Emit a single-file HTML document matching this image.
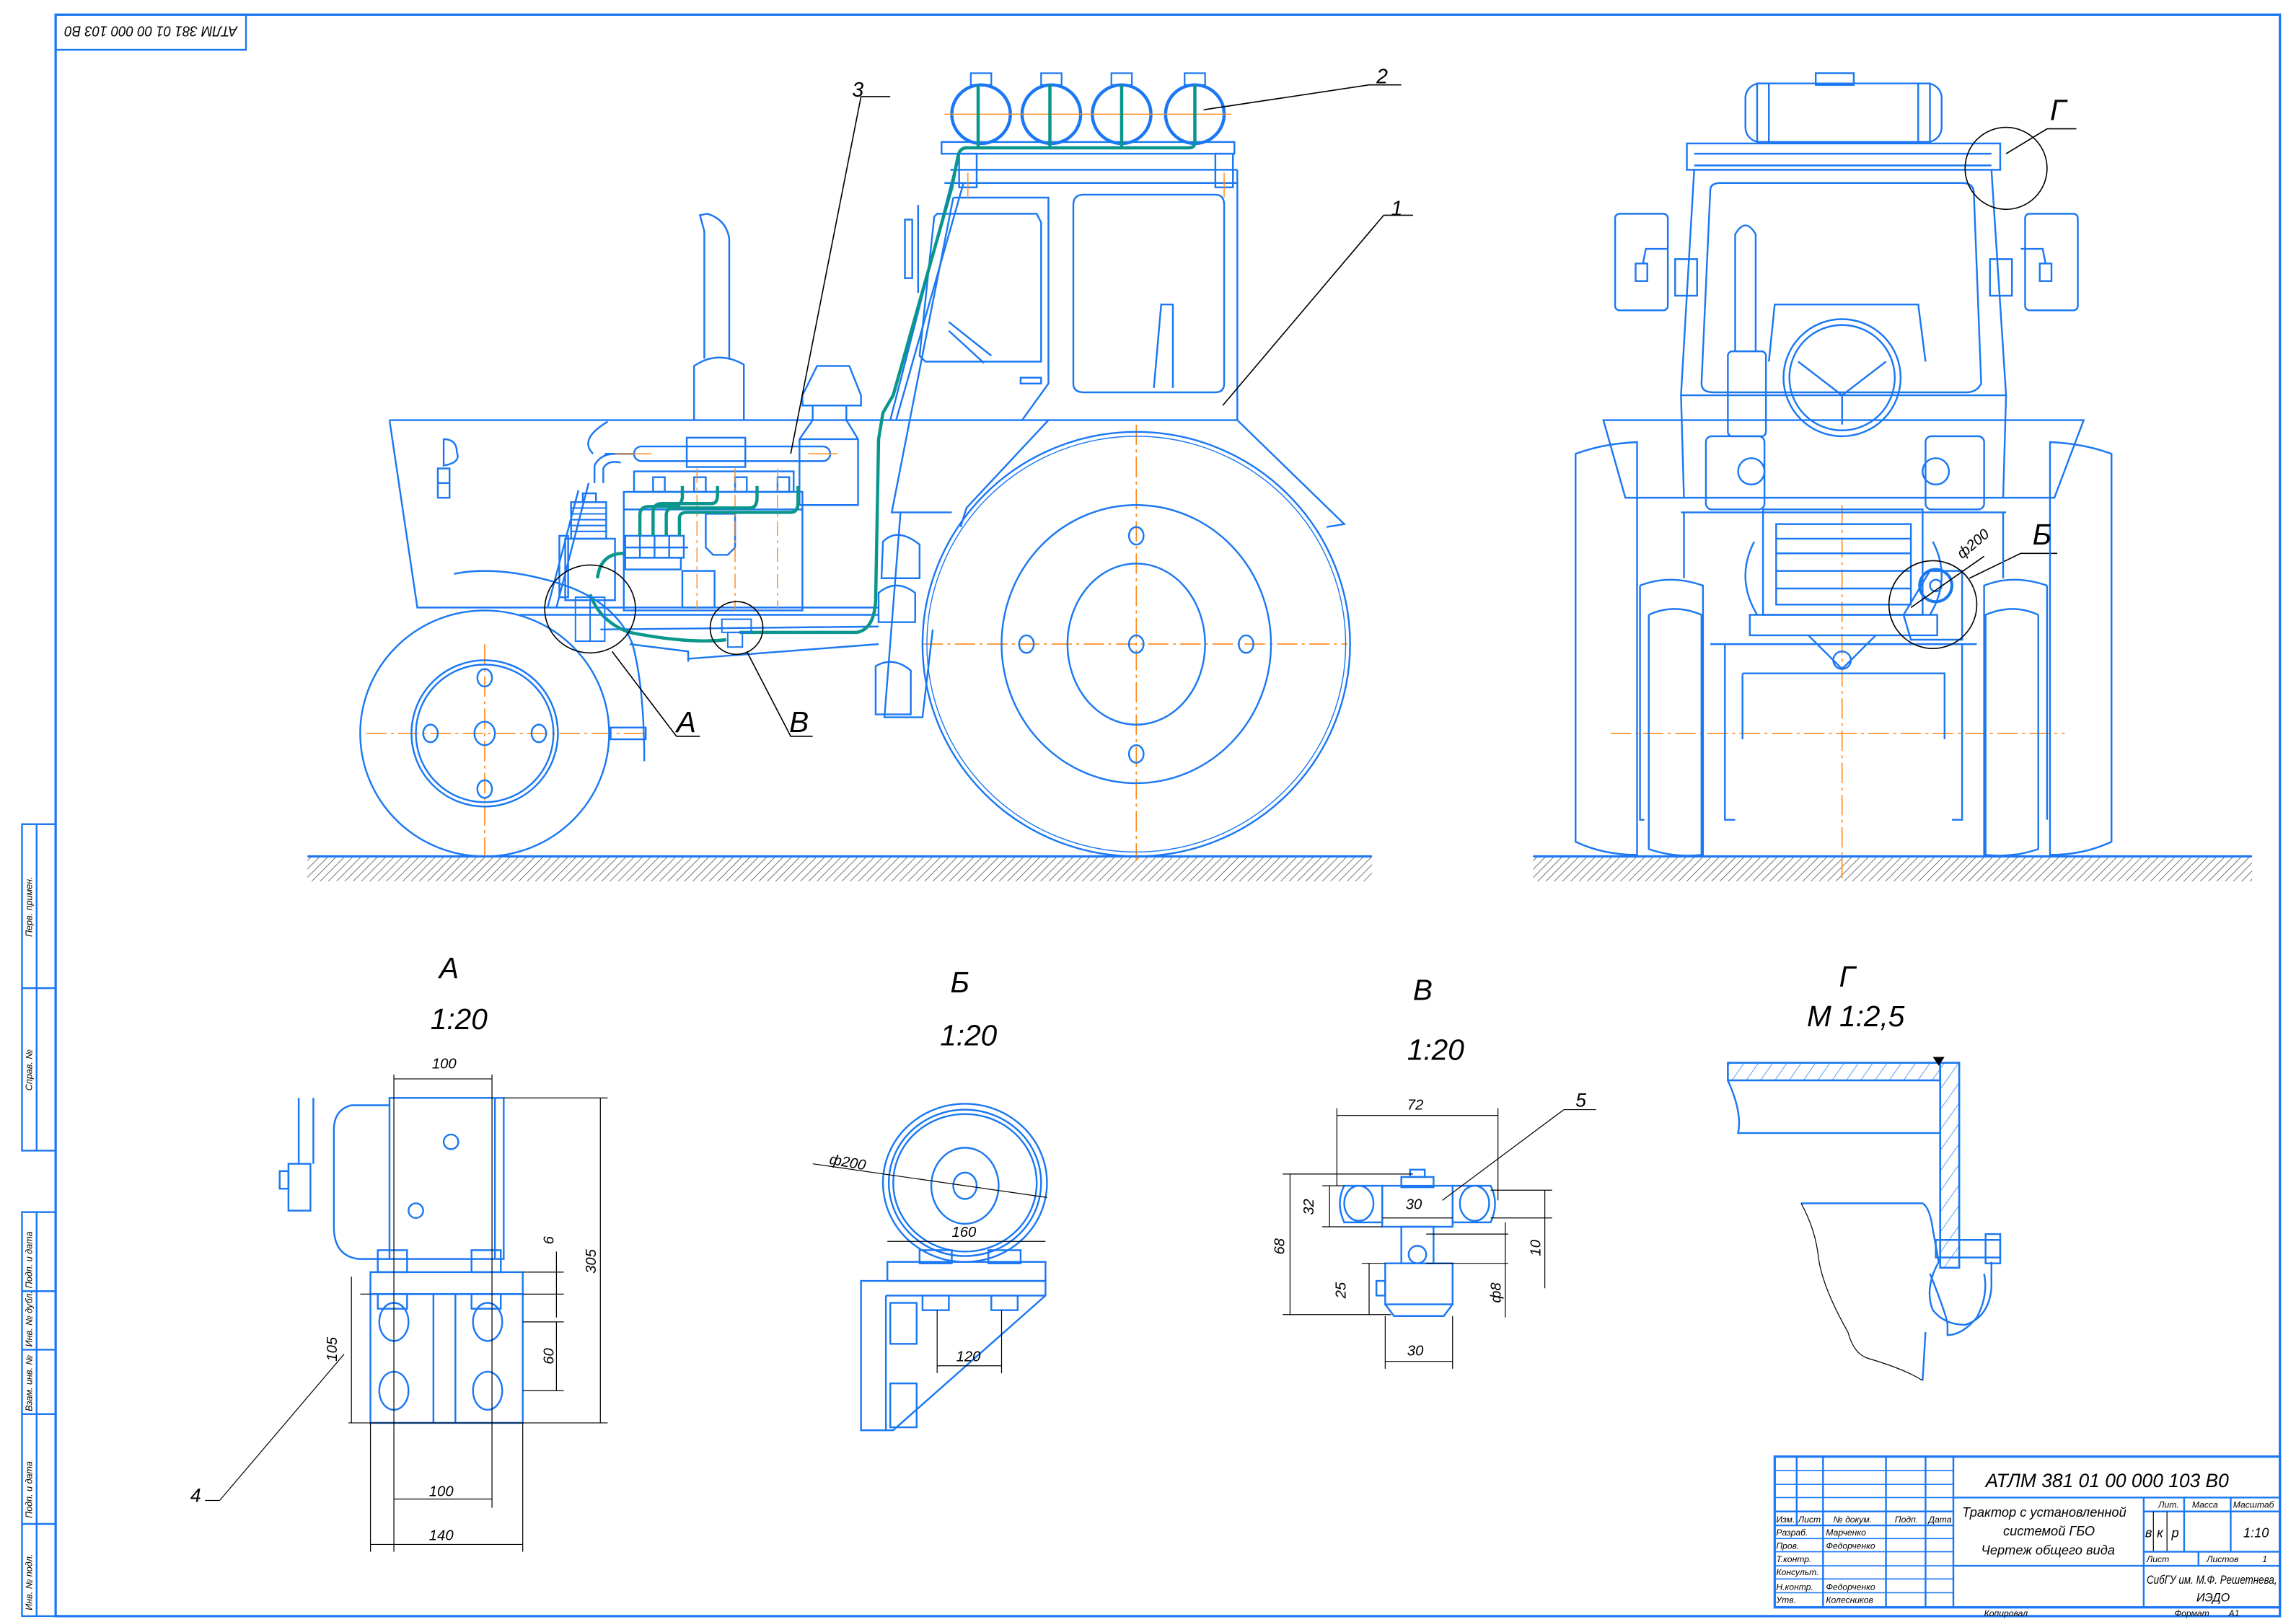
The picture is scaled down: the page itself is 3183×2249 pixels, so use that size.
<!DOCTYPE html>
<html><head><meta charset="utf-8"><style>
html,body{margin:0;padding:0;background:#fff;}
svg{display:block;}
text{font-family:"Liberation Sans","DejaVu Sans",sans-serif;font-style:italic;fill:#000;}
</style></head><body>
<svg width="3183" height="2249" viewBox="0 0 1568 1108" preserveAspectRatio="none" xmlns="http://www.w3.org/2000/svg">
<defs>
<pattern id="hat" width="4" height="4" patternUnits="userSpaceOnUse" patternTransform="rotate(45)"><line x1="0" y1="0" x2="0" y2="4" stroke="#555" stroke-width="0.8"/></pattern>
<pattern id="hat2" width="8" height="8" patternUnits="userSpaceOnUse" patternTransform="rotate(35)"><line x1="0" y1="0" x2="0" y2="8" stroke="#1b78f2" stroke-width="0.7"/></pattern>
</defs>
<rect width="1568" height="1108" fill="#fff"/>
<g fill="none" stroke="#1b78f2" stroke-width="1.2">
<rect x="38" y="10" width="1519" height="1094" stroke-width="1.6"/>
<rect x="38" y="10" width="130" height="24"/>
<rect x="15" y="563" width="23" height="223"/><line x1="25" y1="563" x2="25" y2="786"/><line x1="15" y1="675" x2="38" y2="675"/>
<rect x="15" y="828" width="23" height="276"/><line x1="25" y1="828" x2="25" y2="1104"/>
<line x1="15" y1="882" x2="38" y2="882"/><line x1="15" y1="922" x2="38" y2="922"/><line x1="15" y1="966" x2="38" y2="966"/><line x1="15" y1="1041" x2="38" y2="1041"/>
<rect x="1212" y="995" width="345" height="103" stroke-width="1.6"/>
<line x1="1334" y1="995" x2="1334" y2="1098"/>
<line x1="1227" y1="995" x2="1227" y2="1042"/><line x1="1245" y1="995" x2="1245" y2="1098"/><line x1="1288" y1="995" x2="1288" y2="1098"/><line x1="1315" y1="995" x2="1315" y2="1098"/>
<line x1="1212" y1="1004.5" x2="1334" y2="1004.5" stroke-width="0.8"/><line x1="1212" y1="1014" x2="1334" y2="1014" stroke-width="0.8"/><line x1="1212" y1="1023" x2="1334" y2="1023" stroke-width="0.8"/>
<line x1="1212" y1="1032.5" x2="1334" y2="1032.5"/><line x1="1212" y1="1042" x2="1334" y2="1042"/>
<line x1="1212" y1="1051" x2="1334" y2="1051" stroke-width="0.8"/><line x1="1212" y1="1060" x2="1334" y2="1060" stroke-width="0.8"/><line x1="1212" y1="1069.6" x2="1334" y2="1069.6" stroke-width="0.8"/><line x1="1212" y1="1078.6" x2="1334" y2="1078.6" stroke-width="0.8"/><line x1="1212" y1="1088" x2="1334" y2="1088" stroke-width="0.8"/>
<line x1="1334" y1="1023" x2="1557" y2="1023"/><line x1="1464" y1="1023" x2="1464" y2="1098"/>
<line x1="1464" y1="1032.5" x2="1557" y2="1032.5"/><line x1="1491.6" y1="1023" x2="1491.6" y2="1060"/><line x1="1523.4" y1="1023" x2="1523.4" y2="1060"/>
<line x1="1470.6" y1="1032.5" x2="1470.6" y2="1060" stroke="#000" stroke-width="0.6"/><line x1="1479.9" y1="1032.5" x2="1479.9" y2="1060" stroke="#000" stroke-width="0.6"/>
<line x1="1464" y1="1060" x2="1557" y2="1060"/><line x1="1501.4" y1="1060" x2="1501.4" y2="1069.6"/>
<line x1="1334" y1="1069.6" x2="1557" y2="1069.6"/>
</g>
<rect x="210" y="585" width="727" height="17" fill="url(#hat)"/>
<line x1="210" y1="585" x2="937" y2="585" stroke="#1b78f2" stroke-width="1.5"/>
<rect x="1047" y="585" width="491" height="17" fill="url(#hat)"/>
<line x1="1047" y1="585" x2="1538" y2="585" stroke="#1b78f2" stroke-width="1.5"/>

<g stroke="#ff8a1a" stroke-width="0.8" stroke-dasharray="14 3 2 3" fill="none">
<line x1="630" y1="440" x2="920" y2="440"/><line x1="776" y1="290" x2="776" y2="588"/>
<line x1="250" y1="501" x2="440" y2="501"/><line x1="331" y1="440" x2="331" y2="588"/>
<line x1="1100" y1="501" x2="1410" y2="501"/><line x1="1258" y1="345" x2="1258" y2="600"/>
</g>

<g fill="none" stroke="#1b78f2" stroke-width="1.2">
<ellipse cx="776" cy="440" rx="146" ry="145"/>
<ellipse cx="776" cy="440" rx="143" ry="142" stroke-width="0.7"/>
<ellipse cx="776" cy="440" rx="92" ry="95"/>
<ellipse cx="776" cy="440" rx="47" ry="55"/>
<ellipse cx="776" cy="366" rx="5" ry="6"/><ellipse cx="776" cy="515" rx="5" ry="6"/><ellipse cx="701" cy="440" rx="5" ry="6"/><ellipse cx="851" cy="440" rx="5" ry="6"/><ellipse cx="776" cy="440" rx="5" ry="6"/>
<ellipse cx="331" cy="501" rx="85" ry="84"/>
<ellipse cx="331" cy="501" rx="50" ry="50"/><ellipse cx="331" cy="501" rx="47" ry="47"/>
<ellipse cx="331" cy="501" rx="7" ry="8"/><ellipse cx="331" cy="463" rx="5" ry="6"/><ellipse cx="331" cy="539" rx="5" ry="6"/><ellipse cx="294" cy="501" rx="5" ry="6"/><ellipse cx="368" cy="501" rx="5" ry="6"/>
<path d="M310 392 Q340 386 380 398 Q420 410 432 440 Q440 470 440 520"/>
<rect x="417" y="497" width="24" height="8"/>
<path d="M266 287 L598 287 M266 287 L285 415 L600 415"/>
<path d="M303 300 L303 318 Q315 316 312 309 Q312 300 303 300 Z"/><rect x="299" y="320" width="8" height="20"/><line x1="299" y1="330" x2="307" y2="330"/>
<path d="M481 245 L481 158 L478 147 L483 146 Q496 150 498 163 L498 245"/>
<path d="M474 287 L474 250 Q490 239 508 249 L508 287"/>
<path d="M548 277 L548 270 L558 250 L580 250 L588 270 L588 277 Z"/>
<path d="M555 277 L555 287 L546 300 L546 345 L586 345 L586 300 L578 287 L578 277"/>
<line x1="546" y1="300" x2="586" y2="300"/>
<rect x="426" y="336" width="122" height="81"/>
<line x1="426" y1="348" x2="548" y2="348"/>
<rect x="433" y="322" width="109" height="14"/>
<rect x="433" y="305" width="134" height="10" rx="5"/>
<rect x="469" y="299" width="40" height="20"/>
<line x1="413" y1="310" x2="433" y2="310"/>
<path d="M406 330 L406 318 Q410 310 420 310 M412 330 L412 320 Q415 314 424 316"/>
<path d="M405 310 Q395 300 415 288"/>
<rect x="474" y="326" width="8" height="10"/><rect x="502" y="326" width="8" height="10"/><rect x="531" y="326" width="8" height="10"/><rect x="446" y="326" width="8" height="10"/>
<rect x="390" y="343" width="24" height="25"/>
<g stroke-width="1"><line x1="390" y1="347" x2="414" y2="347"/><line x1="390" y1="351" x2="414" y2="351"/><line x1="390" y1="355" x2="414" y2="355"/><line x1="390" y1="359" x2="414" y2="359"/><line x1="390" y1="363" x2="414" y2="363"/></g>
<rect x="398" y="337" width="9" height="6"/>
<rect x="386" y="368" width="34" height="42"/><rect x="382" y="366" width="6" height="42"/>
<rect x="427" y="366" width="40" height="15"/><line x1="427" y1="374" x2="470" y2="374"/>
<line x1="437" y1="366" x2="437" y2="381"/><line x1="447" y1="366" x2="447" y2="381"/><line x1="457" y1="366" x2="457" y2="381"/>
<rect x="427" y="381" width="38" height="8"/>
<path d="M482 351 L502 351 L502 374 L497 379 L487 379 L482 374 Z"/>
<rect x="466" y="390" width="22" height="25"/>
<path d="M380 415 L402 330 M374 415 L395 335"/>
<path d="M355 420 L600 420 M410 430 L600 428 M470 450 L600 440 M430 440 L470 445 L470 452"/>
<rect x="643" y="97" width="200" height="8"/>
<rect x="655" y="105" width="12" height="23"/><rect x="830" y="105" width="12" height="23"/>
<line x1="649" y1="116" x2="845" y2="116"/><line x1="645" y1="125" x2="845" y2="125"/>
<line x1="845" y1="116" x2="845" y2="287"/>
<path d="M652 116 L608 287 M658 125 L612 287"/>
<path d="M651 135 L716 135 L716 262 L698 287 M651 135 L609 350 L650 350"/>
<path d="M640 146 L708 146 L711 152 L711 247 L632 247 L628 243 L638 148 Z"/>
<path d="M733 140 Q733 133 740 133 L830 133 Q836 133 836 140 L836 262 Q836 268 830 268 L740 268 Q733 268 733 262 Z"/>
<path d="M788 265 L793 208 L801 208 L801 265"/>
<path d="M648 220 L677 243 M648 226 L672 248"/>
<rect x="697" y="258" width="14" height="4"/>
<rect x="618" y="150" width="5" height="40"/><path d="M627 140 L627 200"/>
<path d="M598 287 L845 287 L918 358 L906 360 M716 287 L660 347 L656 360 M615 350 L604 490 L630 490 L637 430"/>
<path d="M603 370 Q613 360 628 372 L628 395 L602 395 Z M600 405 Q612 395 625 405 L625 425 L600 425 Z M598 455 Q610 448 622 458 L622 488 L598 488 Z"/>
</g>
<g fill="none" stroke="#1b78f2" stroke-width="2.2">
<circle cx="670" cy="78" r="20"/><circle cx="718" cy="78" r="20"/><circle cx="766" cy="78" r="20"/><circle cx="816" cy="78" r="20"/>
</g>
<g fill="none" stroke="#1b78f2" stroke-width="1.1">
<rect x="663" y="50" width="14" height="8"/><rect x="711" y="50" width="14" height="8"/><rect x="759" y="50" width="14" height="8"/><rect x="809" y="50" width="14" height="8"/>
</g>
<g stroke="#ff8a1a" stroke-width="0.7">
<line x1="645" y1="78" x2="695" y2="78"/><line x1="693" y1="78" x2="743" y2="78"/><line x1="741" y1="78" x2="791" y2="78"/><line x1="791" y1="78" x2="841" y2="78"/>
<line x1="661" y1="118" x2="661" y2="135"/><line x1="836" y1="118" x2="836" y2="135"/>
<line x1="476" y1="320" x2="476" y2="417" stroke-dasharray="10 3 2 3"/><line x1="502" y1="320" x2="502" y2="417" stroke-dasharray="10 3 2 3"/><line x1="531" y1="320" x2="531" y2="417" stroke-dasharray="10 3 2 3"/>
<line x1="420" y1="310" x2="445" y2="310"/><line x1="552" y1="310" x2="572" y2="310"/>
</g>
<g fill="none" stroke="#0a968c" stroke-width="2.2">
<path d="M668 58 L668 100 M717 58 L717 100 M766 58 L766 100 M816 58 L816 97 Q816 101 812 101 L660 101 Q655 101 654 108 L650 128 L610 270 L603 282 L600 300 L598 410 Q597 430 585 432 L505 432"/>
<path d="M403 406 Q410 425 430 432 Q470 440 496 437"/>
<path d="M408 395 Q410 378 426 378"/>
<path d="M437 366 L437 352 Q437 346 443 346 L460 346 Q465 346 466 340 L466 332"/>
<path d="M446 366 L446 350 Q446 344 452 344 L486 344 Q490 344 490 338 L490 332"/>
<path d="M455 366 L455 352 Q455 347 460 347 L512 347 Q517 347 517 340 L517 332"/>
<path d="M464 366 L464 354 Q464 350 469 350 L540 350 Q545 350 545 343 L545 332"/>
</g>
<g fill="none" stroke="#000" stroke-width="0.8">
<ellipse cx="403" cy="416" rx="31" ry="30"/>
<circle cx="503" cy="429" r="18"/>
<path d="M588 66 L608 66 M588 66 L540 310"/>
<path d="M957 58 L935 58 L822 75"/>
<path d="M965 147 L945 147 L835 277"/>
<path d="M478 503 L462 503 L418 445"/>
<path d="M555 503 L540 503 L510 445"/>
<path d="M1418 88 L1398 88 L1370 105"/>
<path d="M1405 378 L1380 378 L1345 395"/>
</g>
<g fill="none" stroke="#1b78f2" stroke-width="1">
<rect x="393" y="408" width="20" height="30"/><line x1="403" y1="408" x2="403" y2="438"/>
<rect x="493" y="423" width="20" height="9"/><rect x="497" y="432" width="10" height="10"/>
</g>

<g fill="none" stroke="#1b78f2" stroke-width="1.2">
<path d="M1076 310 L1076 575 Q1095 584 1118 584 L1118 302 Q1095 303 1076 310 Z"/>
<path d="M1442 310 L1442 575 Q1423 584 1400 584 L1400 302 Q1423 303 1442 310 Z"/>
<path d="M1120 400 L1120 560 L1123 560 M1120 400 Q1140 392 1163 400 L1163 585 M1126 420 Q1143 412 1162 420 L1162 585 M1126 420 L1126 580 Q1143 586 1162 584"/>
<path d="M1398 400 L1398 560 M1398 400 Q1375 392 1355 400 L1355 585 M1392 420 Q1375 412 1356 420 L1356 585 M1392 420 L1392 580 Q1375 586 1356 584"/>
<rect x="1192" y="57" width="134" height="40" rx="10"/>
<rect x="1200" y="57" width="8" height="40"/><rect x="1310" y="57" width="8" height="40"/><rect x="1240" y="50" width="26" height="8"/>
<rect x="1152" y="98" width="214" height="18"/><line x1="1157" y1="105" x2="1360" y2="105"/><line x1="1157" y1="113" x2="1360" y2="113"/>
<path d="M1157 116 L1148 270 L1370 270 L1360 116"/>
<path d="M1168 130 Q1168 125 1175 125 L1340 125 Q1348 125 1348 132 L1353 262 Q1350 268 1343 268 L1170 268 Q1162 268 1162 262 Z"/>
<rect x="1103" y="146" width="36" height="66" rx="3"/><rect x="1383" y="146" width="36" height="66" rx="3"/>
<path d="M1139 170 L1124 170 L1122 180 M1380 170 L1395 170 L1397 180"/>
<rect x="1117" y="180" width="8" height="12"/><rect x="1393" y="180" width="8" height="12"/>
<rect x="1144" y="177" width="15" height="25"/><rect x="1359" y="177" width="15" height="25"/>
<path d="M1208 247 L1212 208 L1310 208 L1315 247"/>
<circle cx="1258" cy="258" r="40"/><circle cx="1258" cy="258" r="36"/>
<path d="M1228 247 L1258 270 L1288 247 M1258 270 L1258 290"/>
<rect x="1180" y="240" width="26" height="58" rx="3"/>
<path d="M1185 240 L1185 160 Q1192 148 1199 160 L1199 240"/>
<path d="M1095 287 L1423 287 L1403 340 L1110 340 Z"/>
<path d="M1148 270 L1150 340 M1370 270 L1368 340"/>
<rect x="1165" y="298" width="40" height="50" rx="4"/><rect x="1315" y="298" width="40" height="50" rx="4"/>
<circle cx="1196" cy="322" r="9"/><circle cx="1322" cy="322" r="9"/>
<rect x="1204" y="348" width="109" height="72"/>
<rect x="1213" y="358" width="92" height="55"/>
<line x1="1213" y1="368" x2="1305" y2="368"/><line x1="1213" y1="378" x2="1305" y2="378"/><line x1="1213" y1="390" x2="1305" y2="390"/><line x1="1213" y1="402" x2="1305" y2="402"/>
<rect x="1195" y="420" width="128" height="14"/>
<path d="M1235 434 L1258 457 L1281 434"/><circle cx="1258" cy="451" r="6"/>
<path d="M1148 350 L1370 350 M1150 350 L1150 395 M1368 350 L1368 395"/>
<path d="M1168 440 L1350 440 M1178 440 L1178 560 L1185 560 M1340 440 L1340 560 L1333 560 M1190 460 L1328 460 L1328 505 M1190 460 L1190 505"/>
<path d="M1198 370 Q1185 395 1200 420 M1320 370 Q1333 395 1318 420"/>
<circle cx="1322" cy="400" r="11" stroke-width="2"/><circle cx="1322" cy="400" r="4"/>
<path d="M1300 420 L1318 390 L1340 390 L1340 437 L1305 437 Z"/>
</g>
<g fill="none" stroke="#000" stroke-width="0.8"><circle cx="1370" cy="115" r="28"/><circle cx="1320" cy="413" r="30"/><line x1="1305" y1="415" x2="1355" y2="380"/></g>

<g fill="none" stroke="#1b78f2" stroke-width="1.2">
<rect x="266" y="750" width="78" height="110"/><line x1="338" y1="750" x2="338" y2="860"/>
<path d="M266 755 L240 755 Q228 758 228 772 L228 838 Q228 858 245 860 L266 860"/>
<rect x="197" y="795" width="15" height="32"/><line x1="204" y1="750" x2="204" y2="795"/><line x1="214" y1="750" x2="214" y2="795"/>
<rect x="191" y="800" width="6" height="12"/>
<rect x="253" y="869" width="104" height="15"/><rect x="253" y="884" width="104" height="88"/>
<line x1="296" y1="884" x2="296" y2="972"/><line x1="311" y1="884" x2="311" y2="972"/>
<rect x="258" y="854" width="20" height="15"/><rect x="322" y="854" width="20" height="15"/>
<rect x="258" y="884" width="20" height="10"/><rect x="322" y="884" width="20" height="10"/>
<ellipse cx="269" cy="903" rx="10" ry="13"/><ellipse cx="333" cy="903" rx="10" ry="13"/>
<ellipse cx="269" cy="950" rx="10" ry="13"/><ellipse cx="333" cy="950" rx="10" ry="13"/>
<circle cx="308" cy="780" r="5"/><circle cx="284" cy="827" r="5"/>
</g>
<g fill="none" stroke="#000" stroke-width="0.6">
<line x1="269" y1="734" x2="269" y2="1060"/><line x1="336" y1="734" x2="336" y2="1030"/>
<line x1="269" y1="737" x2="336" y2="737"/>
<line x1="344" y1="750" x2="415" y2="750"/><line x1="253" y1="972" x2="415" y2="972"/><line x1="410" y1="750" x2="410" y2="972"/>
<line x1="357" y1="869" x2="385" y2="869"/><line x1="357" y1="884" x2="385" y2="884"/><line x1="380" y1="855" x2="380" y2="900"/>
<line x1="357" y1="903" x2="385" y2="903"/><line x1="357" y1="950" x2="385" y2="950"/><line x1="380" y1="903" x2="380" y2="950"/>
<line x1="246" y1="884" x2="253" y2="884"/><line x1="240" y1="872" x2="240" y2="972"/><line x1="238" y1="972" x2="253" y2="972"/>
<line x1="253" y1="972" x2="253" y2="1060"/><line x1="357" y1="972" x2="357" y2="1060"/>
<line x1="269" y1="1024" x2="336" y2="1024"/><line x1="253" y1="1055" x2="357" y2="1055"/>
<line x1="140" y1="1025" x2="150" y2="1025"/><line x1="150" y1="1025" x2="235" y2="925"/>
</g>
<g fill="none" stroke="#1b78f2" stroke-width="1.2">
<ellipse cx="659" cy="808" rx="56" ry="54"/><ellipse cx="659" cy="808" rx="52" ry="50"/><ellipse cx="659" cy="808" rx="49" ry="47"/>
<ellipse cx="659" cy="810" rx="23" ry="26"/><ellipse cx="659" cy="810" rx="8" ry="9"/>
<rect x="606" y="862" width="108" height="13"/>
<path d="M588 875 L714 875 L714 885 L610 977 L588 977 Z"/>
<line x1="605" y1="885" x2="714" y2="885"/><line x1="605" y1="885" x2="605" y2="977"/>
<rect x="608" y="890" width="18" height="28"/><rect x="608" y="945" width="18" height="30"/>
<rect x="628" y="854" width="22" height="9"/><rect x="675" y="854" width="22" height="9"/>
<rect x="630" y="885" width="18" height="10"/><rect x="677" y="885" width="18" height="10"/>
</g>
<g fill="none" stroke="#000" stroke-width="0.6">
<line x1="555" y1="795" x2="715" y2="818"/><line x1="606" y1="848" x2="714" y2="848"/>
<line x1="640" y1="895" x2="640" y2="938"/><line x1="684" y1="895" x2="684" y2="938"/><line x1="640" y1="933" x2="684" y2="933"/>
</g>
<g fill="none" stroke="#1b78f2" stroke-width="1.2">
<path d="M918 810 L944 810 L944 835 L918 835 Q912 822 918 810 Z"/><ellipse cx="928" cy="822" rx="10" ry="12"/>
<path d="M1018 810 L992 810 L992 835 L1018 835 Q1024 822 1018 810 Z"/><ellipse cx="1007" cy="822" rx="10" ry="12"/>
<rect x="944" y="810" width="48" height="28"/>
<rect x="957" y="804" width="22" height="7"/><rect x="963" y="799" width="10" height="5"/>
<rect x="957" y="838" width="22" height="25"/><circle cx="968" cy="857" r="6"/>
<rect x="946" y="863" width="46" height="28"/><path d="M946 891 L952 899 L986 899 L992 891"/>
<rect x="940" y="875" width="6" height="10"/>
</g>
<g fill="none" stroke="#000" stroke-width="0.6">
<line x1="913" y1="757" x2="913" y2="810"/><line x1="1023" y1="757" x2="1023" y2="820"/><line x1="913" y1="762" x2="1023" y2="762"/>
<line x1="876" y1="802" x2="965" y2="802"/><line x1="876" y1="898" x2="950" y2="898"/><line x1="881" y1="802" x2="881" y2="898"/>
<line x1="903" y1="810" x2="918" y2="810"/><line x1="903" y1="838" x2="944" y2="838"/><line x1="908" y1="810" x2="908" y2="838"/>
<line x1="944" y1="832" x2="992" y2="832"/>
<line x1="1018" y1="813" x2="1060" y2="813"/><line x1="1018" y1="832" x2="1060" y2="832"/><line x1="1055" y1="813" x2="1055" y2="880"/>
<line x1="974" y1="843" x2="1030" y2="843"/><line x1="974" y1="863" x2="1030" y2="863"/><line x1="1028" y1="835" x2="1028" y2="900"/>
<line x1="930" y1="863" x2="946" y2="863"/><line x1="935" y1="863" x2="935" y2="898"/>
<line x1="946" y1="899" x2="946" y2="935"/><line x1="992" y1="899" x2="992" y2="935"/><line x1="946" y1="930" x2="992" y2="930"/>
<line x1="1090" y1="758" x2="1068" y2="758"/><line x1="1068" y1="758" x2="985" y2="820"/>
</g>
<rect x="1180" y="726" width="145" height="12" fill="url(#hat2)" stroke="#1b78f2" stroke-width="1.3"/>
<rect x="1325" y="726" width="13" height="140" fill="url(#hat2)" stroke="#1b78f2" stroke-width="1.3"/>
<g fill="none" stroke="#1b78f2" stroke-width="1.2">
<path d="M1180 738 Q1190 760 1187 774 L1325 774"/>
<path d="M1230 822 L1313 822 Q1318 825 1320 840 L1324 862 Q1314 880 1320 895 Q1328 905 1342 905 Q1358 900 1360 880 L1360 862"/>
<rect x="1322" y="847" width="44" height="12"/><rect x="1356" y="843" width="10" height="20"/>
<path d="M1318 870 Q1330 900 1330 905 L1330 912 Q1340 912 1350 900 Q1358 885 1355 870"/>
<path d="M1315 910 L1313 943"/>
</g>
<path d="M1230 822 Q1240 840 1242 860 Q1245 880 1262 910 Q1266 925 1276 928 Q1300 935 1313 943" fill="none" stroke="#000" stroke-width="0.6"/>
<path d="M1320 722 L1328 722 L1324 728 Z" fill="#000"/>

<g>
<text x="103" y="26" font-size="10" text-anchor="middle" textLength="118" lengthAdjust="spacingAndGlyphs" transform="rotate(180 103 22)">АТЛМ 381 01 00 000 103 В0</text>
<text x="582" y="66" font-size="14">3</text>
<text x="940" y="57" font-size="14">2</text>
<text x="950" y="147" font-size="14">1</text>
<text x="462" y="500" font-size="20" font-style="normal">А</text>
<text x="539" y="500" font-size="20" font-style="normal">В</text>
<text x="1400" y="82" font-size="20" font-style="normal">Г</text>
<text x="1388" y="372" font-size="20" font-style="normal">Б</text>
<text x="1340" y="382" font-size="10" transform="rotate(-40 1340 382)">ф200</text>
<text x="300" y="668" font-size="20">А</text>
<text x="294" y="703" font-size="20">1:20</text>
<text x="649" y="678" font-size="20">Б</text>
<text x="642" y="714" font-size="20">1:20</text>
<text x="965" y="683" font-size="20">В</text>
<text x="961" y="724" font-size="20">1:20</text>
<text x="1256" y="674" font-size="20">Г</text>
<text x="1234" y="701" font-size="20">М 1:2,5</text>
<text x="130" y="1026" font-size="13">4</text>
<text x="1076" y="756" font-size="13">5</text>
<g font-size="10">
<text x="295" y="730">100</text>
<text x="293" y="1022">100</text><text x="293" y="1052">140</text>
<text x="378" y="850" transform="rotate(-90 378 850)">6</text>
<text x="407" y="870" transform="rotate(-90 407 870)">305</text>
<text x="378" y="932" transform="rotate(-90 378 932)">60</text>
<text x="230" y="930" transform="rotate(-90 230 930)">105</text>
<text x="566" y="795" transform="rotate(10 566 795)">ф200</text>
<text x="650" y="845">160</text><text x="653" y="930">120</text>
<text x="961" y="758">72</text><text x="960" y="826">30</text>
<text x="897" y="830" transform="rotate(-90 897 830)">32</text>
<text x="877" y="857" transform="rotate(-90 877 857)">68</text>
<text x="1052" y="858" transform="rotate(-90 1052 858)">10</text>
<text x="919" y="887" transform="rotate(-90 919 887)">25</text>
<text x="1025" y="890" transform="rotate(-90 1025 890)">ф8</text>
<text x="961" y="926">30</text>
</g>
<g font-size="6.2">
<text x="22" y="640" transform="rotate(-90 22 640)">Перв. примен.</text>
<text x="22" y="745" transform="rotate(-90 22 745)">Справ. №</text>
<text x="22" y="880" transform="rotate(-90 22 880)">Подп. и дата</text>
<text x="22" y="920" transform="rotate(-90 22 920)">Инв. № дубл.</text>
<text x="22" y="964" transform="rotate(-90 22 964)">Взам. инв. №</text>
<text x="22" y="1037" transform="rotate(-90 22 1037)">Подп. и дата</text>
<text x="22" y="1100" transform="rotate(-90 22 1100)">Инв. № подл.</text>
</g>
<text x="1356" y="1016" font-size="13">АТЛМ 381 01 00 000 103 В0</text>
<g font-size="6">
<text x="1213" y="1040">Изм.</text><text x="1228" y="1040">Лист</text><text x="1252" y="1040">№ докум.</text><text x="1294" y="1040">Подп.</text><text x="1317" y="1040">Дата</text>
<text x="1213" y="1049">Разраб.</text><text x="1247" y="1049">Марченко</text>
<text x="1213" y="1058">Пров.</text><text x="1247" y="1058">Федорченко</text>
<text x="1213" y="1067">Т.контр.</text>
<text x="1213" y="1076">Консульт.</text>
<text x="1213" y="1086">Н.контр.</text><text x="1247" y="1086">Федорченко</text>
<text x="1213" y="1095">Утв.</text><text x="1247" y="1095">Колесников</text>
<text x="1474" y="1030">Лит.</text><text x="1497" y="1030">Масса</text><text x="1525" y="1030">Масштаб</text>
<text x="1466" y="1067">Лист</text><text x="1507" y="1067">Листов</text><text x="1545" y="1067">1</text>
<text x="1355" y="1104">Копировал</text><text x="1485" y="1104">Формат</text><text x="1522" y="1104">А1</text>
</g>
<g font-size="9">
<text x="1340" y="1036">Трактор с установленной</text>
<text x="1368" y="1049">системой ГБО</text>
<text x="1353" y="1062">Чертеж общего вида</text>
<text x="1465" y="1050">в</text><text x="1473" y="1050">к</text><text x="1483" y="1050">р</text>
<text x="1532" y="1050">1:10</text>
</g>
<text x="1466" y="1082" font-size="8" textLength="89" lengthAdjust="spacingAndGlyphs">СибГУ им. М.Ф. Решетнева,</text>
<text x="1500" y="1094" font-size="8">ИЭДО</text>
</g>
</svg>
</body></html>
